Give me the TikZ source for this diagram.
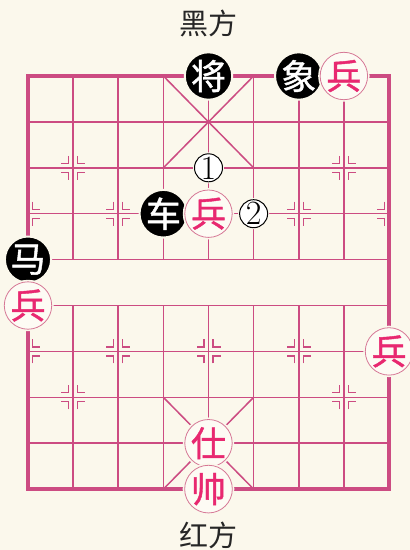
\documentclass[tikz,border=0pt]{standalone}
\usepackage{fontspec}
\newfontfamily\cjk{Noto Sans CJK SC}
\newfontfamily\cjkpc{Noto Sans CJK SC}[FakeBold=1.2]
\definecolor{bg}{RGB}{251,248,236}
\definecolor{boardline}{RGB}{204,76,130}
\definecolor{redtext}{RGB}{232,40,112}
\definecolor{pieceline}{RGB}{214,120,150}
\definecolor{piecefill}{RGB}{253,251,244}
\tikzset{
  gridline/.style={draw=boardline, line width=1.5pt},
  borderline/.style={draw=boardline, line width=3.8pt},
  markline/.style={draw=boardline, line width=1.3pt},
  blackpc/.style={circle, fill=black, draw=bg, line width=2pt, minimum size=41pt, inner sep=0pt, text=white, font=\cjkpc\fontsize{35}{35}\selectfont},
  redpc/.style={circle, fill=piecefill, draw=pieceline, line width=0.8pt, minimum size=39pt, inner sep=0pt, text=redtext, font=\cjkpc\fontsize{35}{35}\selectfont, preaction={draw=bg, line width=4pt}},
  numpc/.style={circle, fill=white, draw=black, line width=1pt, minimum size=28pt, inner sep=0pt, font=\fontsize{34}{34}\selectfont, preaction={draw=bg, line width=3pt}},
  sidelabel/.style={font=\cjk\fontsize{29}{29}\selectfont, text=black!85, inner sep=0pt}
}
\newcommand\xqmark[3]{%
  \foreach \sx in {#3} {
    \foreach \sy in {-1,1} {
      \draw[markline, shift={(#1,#2)}] (\sx*4.5pt,\sy*12pt) -- (\sx*4.5pt,\sy*4.5pt) -- (\sx*12pt,\sy*4.5pt);
    }
  }%
}
\begin{document}
\begin{tikzpicture}[x=45.125pt,y=-45.9pt]
\useasboundingbox[fill=bg] (-0.6205,-1.6558) rectangle (8.4654,10.3268);
% grid
\foreach \j in {1,...,8} { \draw[gridline] (0,\j) -- (8,\j); }
\foreach \i in {1,...,7} { \draw[gridline] (\i,0) -- (\i,4); \draw[gridline] (\i,5) -- (\i,9); }
% palaces
\draw[gridline] (3,0) -- (5,2);
\draw[gridline] (5,0) -- (3,2);
\draw[gridline] (3,7) -- (5,9);
\draw[gridline] (5,7) -- (3,9);
% border
\draw[borderline] (0,0) rectangle (8,9);
% position marks
\xqmark{1}{2}{-1,1}
\xqmark{7}{2}{-1,1}
\xqmark{1}{7}{-1,1}
\xqmark{7}{7}{-1,1}
\xqmark{0}{3}{1}
\xqmark{2}{3}{-1,1}
\xqmark{4}{3}{-1,1}
\xqmark{6}{3}{-1,1}
\xqmark{8}{3}{-1}
\xqmark{0}{6}{1}
\xqmark{2}{6}{-1,1}
\xqmark{4}{6}{-1,1}
\xqmark{6}{6}{-1,1}
\xqmark{8}{6}{-1}
% labels
\node[sidelabel] (black) at (4,-1.14) {黑方};
\node[sidelabel] (red) at (4,10.0) {红方};
% pieces
\node[blackpc] (jiang) at (4,0) {将};
\node[blackpc] (xiang) at (6,0) {象};
\node[redpc] (bingA) at (7,0) {兵};
\node[numpc] (one) at (4,2) {1};
\node[blackpc] (che) at (3,3) {车};
\node[redpc] (bingB) at (4,3) {兵};
\node[numpc] (two) at (5,3) {2};
\node[blackpc] (ma) at (0,4) {马};
\node[redpc] (bingC) at (0,5) {兵};
\node[redpc] (bingD) at (8,6) {兵};
\node[redpc] (shi) at (4,8) {仕};
\node[redpc] (shuai) at (4,9) {帅};
\end{tikzpicture}
\end{document}
